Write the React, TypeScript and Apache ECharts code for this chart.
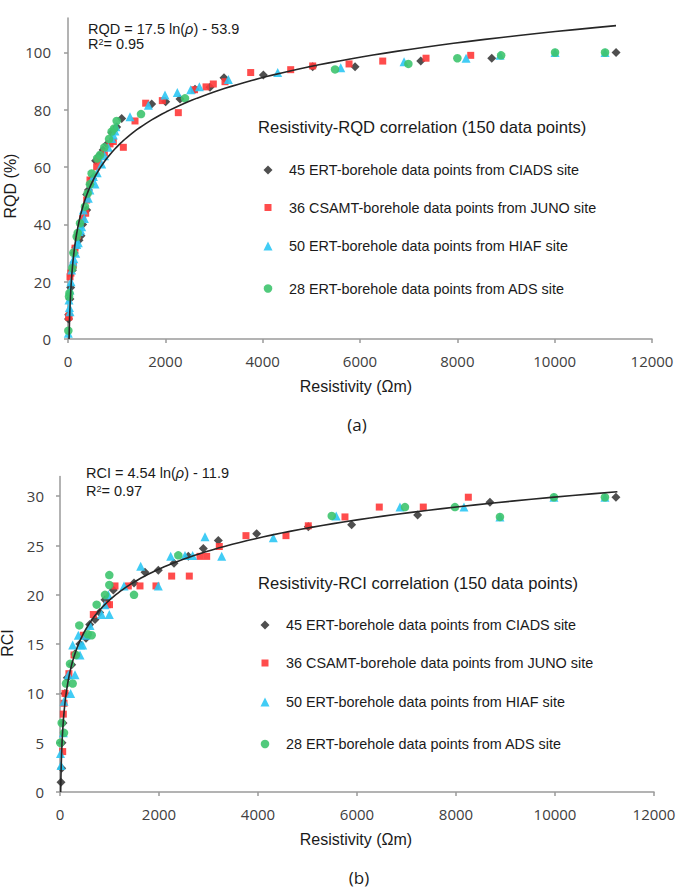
import React, { useEffect, useRef } from "react";
import * as echarts from "echarts";

// ---------- data ----------
const X_TICKS = [0, 2000, 4000, 6000, 8000, 10000, 12000];
const RQD_TICKS = [0, 20, 40, 60, 80, 100];
const RCI_TICKS = [0, 5, 10, 15, 20, 25, 30];

const NAME_CIADS = "45 ERT-borehole data points from CIADS site";
const NAME_JUNO = "36 CSAMT-borehole data points from JUNO site";
const NAME_HIAF = "50 ERT-borehole data points from HIAF site";
const NAME_ADS = "28 ERT-borehole data points from ADS site";

const RQD_CIADS = [[10,7],[14,8.5],[40,14],[55,18],[90,24],[130,30],[160,32],[226,34.5],[267,36],[300,40],[384,45],[384,50.4],[420,52],[460,54],[500,56],[568,62.2],[640,64],[720,66],[800,68],[900,72],[1000,74],[1103,77],[1720,82],[2007,82.8],[2301,83.8],[2610,87.2],[2918,87.9],[3206,91.2],[4014,92.1],[5028,95],[5898,95],[7248,97],[8707,98],[11261,100]];
const RQD_JUNO = [[14,7.6],[21,8],[41,21.7],[60,23],[110,25.8],[144,31.7],[200,36],[300,42],[363,43.9],[384,48.5],[452,55.5],[589,60.1],[623,62.4],[747,65],[863,68.1],[931,68.9],[1137,66.9],[1377,76.1],[1596,82.3],[1938,83.2],[2267,79],[2600,87],[2836,88],[2986,89],[3226,89.8],[3754,93],[4576,94],[5028,95.3],[5775,96],[6467,97],[7357,98],[8275,99]];
const RQD_HIAF = [[7,2],[21,13.6],[30,11],[41,9.5],[41,17.1],[62,20],[75,24.1],[100,27],[120,28],[158,29.9],[180,33],[212,33.6],[226,37.5],[260,38],[281,39.2],[315,45],[336,42.1],[418,49.1],[450,52],[521,56.7],[555,54.1],[600,58],[692,61.1],[750,64],[829,66.9],[900,70],[931,71.2],[966,72.6],[986,74.1],[1274,77.6],[1651,81.6],[1993,85.2],[2246,86],[2521,87],[2699,88],[3295,90.6],[4309,93],[5604,94.7],[6905,96.8],[8179,98],[8878,99],[10008,100],[11035,100]];
const RQD_ADS = [[7,2.9],[21,14.8],[30,16],[89,24.7],[110,30.1],[178,35.7],[200,37],[247,40.4],[349,46.2],[404,50.8],[450,54],[486,57.8],[600,63],[658,64.2],[747,66.9],[843,69.8],[897,72.4],[950,73.5],[1000,76.1],[1500,78.5],[2404,84],[5487,94.1],[6994,96],[8001,98],[8900,99],[10008,100],[11035,100]];

const RCI_CIADS = [[20,1],[34,2.4],[40,5],[60,7],[100,10],[148,11.6],[236,12.9],[300,14],[400,15],[525,15.6],[600,17],[707,17.5],[800,18.2],[909,19.5],[1077,20.5],[1495,21.2],[1717,22.3],[1986,22.5],[2303,23.2],[2592,23.9],[2895,24.7],[3198,25.5],[3973,26.2],[5016,26.9],[5892,27.1],[7225,28.1],[8686,29.4],[11231,29.9]];
const RCI_JUNO = [[54,4.1],[67,7.9],[81,9],[101,10],[180,12],[283,13.9],[471,15.9],[673,18],[956,19],[1000,19],[1111,20.9],[1380,20.9],[1616,20.9],[1939,20.9],[2256,21.9],[2612,21.9],[2828,23.9],[2963,23.9],[3218,24.9],[3757,26],[4565,26],[5016,27],[5757,27.9],[6450,28.9],[7339,28.9],[8249,29.9]];
const RCI_HIAF = [[10,3.9],[20,2.7],[67,6],[81,9.2],[168,11.9],[215,10],[303,11.9],[256,14.9],[370,15.9],[404,13.9],[417,14.9],[458,14.9],[525,15.9],[606,16.9],[842,18],[909,19],[976,20],[996,18],[1293,20.9],[1630,22.9],[1986,20.9],[2236,23.9],[2525,24],[2680,24],[2929,25.9],[3266,23.9],[4309,25.8],[5580,28],[6868,28.9],[8161,28.9],[8888,27.9],[9979,29.9],[11009,29.9]];
const RCI_ADS = [[5,5],[34,7],[81,6],[121,11],[202,13],[256,11],[323,13.9],[390,16.9],[560,16],[640,15.9],[741,19],[909,20],[996,21],[996,22],[1495,20],[2390,24],[5490,28],[6969,28.9],[7979,28.9],[8888,27.9],[9979,29.9],[11009,29.9]];

// fitted logarithmic trendlines as printed on the chart: y = a ln(x) + b
const RQD_FIT_A = 17.5;
const RQD_FIT_B = -53.9;
const RCI_FIT_A = 4.54;
const RCI_FIT_B = -11.9;
const FIT_X_END = 11260;

function fitCurve(a: number, b: number) {
  const x0 = Math.exp(-b / a);
  const pts: number[][] = [];
  const n = 160;
  for (let i = 0; i <= n; i++) {
    const x = x0 * Math.pow(FIT_X_END / x0, i / n);
    pts.push([x, a * Math.log(x) + b]);
  }
  return pts;
}

const COLORS = {
  ciads: "#3c3c3c",
  juno: "#ff3838",
  hiaf: "#2cc6f4",
  ads: "#3ec46e",
};

export default function App() {
  const ref = useRef<HTMLDivElement>(null);
  useEffect(() => {
    if (!ref.current) return;
    const chart = echarts.init(ref.current, null, { renderer: "svg" });

    const axisLine = { lineStyle: { color: "#9a9a9a", width: 1.5 } };
    const axisTick = { show: true, length: 4, lineStyle: { color: "#9a9a9a", width: 1.5 } };
    const tickFont = { fontFamily: "Open Sans", fontSize: 15, color: "#404040" };

    const scatterDefs = (gi: number, sets: number[][][]) => [
      { name: NAME_CIADS, symbol: "diamond", symbolSize: 9, color: COLORS.ciads, data: sets[0] },
      { name: NAME_JUNO, symbol: "rect", symbolSize: 7, color: COLORS.juno, data: sets[1] },
      { name: NAME_HIAF, symbol: "triangle", symbolSize: 9, color: COLORS.hiaf, data: sets[2] },
      { name: NAME_ADS, symbol: "circle", symbolSize: 8.5, color: COLORS.ads, data: sets[3] },
    ].map((s) => ({
      type: "scatter",
      name: s.name,
      xAxisIndex: gi,
      yAxisIndex: gi,
      symbol: s.symbol,
      symbolSize: s.symbolSize,
      itemStyle: { color: s.color, opacity: 0.9 },
      data: s.data,
      z: 2,
    }));

    const names = [NAME_CIADS, NAME_JUNO, NAME_HIAF, NAME_ADS];
    const icons = ["diamond", "rect", "triangle", "circle"];
    const iconSizes = [9, 7, 9, 8.5];
    const makeLegends = (left: number, ys: number[]) =>
      names.map((n, i) => ({
        left: left - iconSizes[i] / 2,
        top: ys[i] - 8,
        padding: 0,
        selectedMode: false,
        itemWidth: iconSizes[i],
        itemHeight: iconSizes[i],
        data: [{ name: n, icon: icons[i] }],
        textStyle: {
          fontFamily: "Liberation Sans",
          fontSize: 14.4,
          lineHeight: 16,
          color: "#1a1a1a",
          padding: [0, 0, 0, 21 - 5 - iconSizes[i] / 2],
        },
      }));

    const eqRich = {
      i: { fontFamily: "Liberation Sans", fontSize: 14.5, lineHeight: 14, fontStyle: "italic", fill: "#1a1a1a" },
    };
    const supRich = {
      s: { fontFamily: "Liberation Sans", fontSize: 9, fill: "#1a1a1a", verticalAlign: "top", lineHeight: 13 },
    };
    const txt = (x: number, y: number, text: string, extra: any = {}) => ({
      type: "text",
      x,
      y,
      style: {
        text,
        fontFamily: "Liberation Sans",
        fontSize: 15,
        fill: "#1a1a1a",
        align: "left",
        verticalAlign: "middle",
        ...extra,
      },
    });

    chart.setOption({
      animation: false,
      backgroundColor: "#ffffff",
      grid: [
        { left: 68, top: 18.1, width: 584, height: 320.9 },
        { left: 60, top: 476.5, width: 594, height: 315.5 },
      ],
      xAxis: [0, 1].map((gi) => ({
        type: "value",
        gridIndex: gi,
        min: X_TICKS[0],
        max: X_TICKS[X_TICKS.length - 1],
        interval: X_TICKS[1] - X_TICKS[0],
        splitLine: { show: false },
        axisLine,
        axisTick,
        axisLabel: { ...tickFont, margin: 14, formatter: (v: number) => String(v) },
      })),
      yAxis: [
        {
          type: "value",
          gridIndex: 0,
          min: 0,
          max: 112,
          splitLine: { show: false },
          axisLine: { show: true, ...axisLine },
          axisTick: { ...axisTick, customValues: RQD_TICKS },
          axisLabel: { ...tickFont, margin: 17, customValues: RQD_TICKS, formatter: (v: number) => String(v) },
        },
        {
          type: "value",
          gridIndex: 1,
          min: 0,
          max: 32,
          splitLine: { show: false },
          axisLine: { show: true, ...axisLine },
          axisTick: { ...axisTick, customValues: RCI_TICKS },
          axisLabel: { ...tickFont, margin: 16, customValues: RCI_TICKS, formatter: (v: number) => String(v) },
        },
      ],
      legend: [
        ...makeLegends(268, [170, 207.5, 246, 288.5]),
        ...makeLegends(265, [625, 663, 702, 744]),
      ],
      series: [
        ...scatterDefs(0, [RQD_CIADS, RQD_JUNO, RQD_HIAF, RQD_ADS]),
        ...scatterDefs(1, [RCI_CIADS, RCI_JUNO, RCI_HIAF, RCI_ADS]),
        {
          type: "line",
          name: "RQD trend",
          xAxisIndex: 0,
          yAxisIndex: 0,
          data: fitCurve(RQD_FIT_A, RQD_FIT_B),
          showSymbol: false,
          symbol: "none",
          lineStyle: { color: "#262626", width: 1.6 },
          z: 3,
        },
        {
          type: "line",
          name: "RCI trend",
          xAxisIndex: 1,
          yAxisIndex: 1,
          data: fitCurve(RCI_FIT_A, RCI_FIT_B),
          showSymbol: false,
          symbol: "none",
          lineStyle: { color: "#262626", width: 1.6 },
          z: 3,
        },
      ],
      graphic: [
        txt(88, 28.5, "RQD = 17.5 ln({i|ρ}) - 53.9", { rich: eqRich, fontSize: 14.5, lineHeight: 14 }),
        txt(88, 44, "R{s|2}= 0.95", { rich: supRich, fontSize: 14.5, lineHeight: 13 }),
        txt(86, 472.5, "RCI = 4.54 ln({i|ρ}) - 11.9", { rich: eqRich, fontSize: 14.5, lineHeight: 14 }),
        txt(86, 491, "R{s|2}= 0.97", { rich: supRich, fontSize: 14.5, lineHeight: 13 }),
        txt(258, 127, "Resistivity-RQD correlation (150 data points)", { fontSize: 16.6 }),
        txt(258, 583, "Resistivity-RCI correlation (150 data points)", { fontSize: 16.6 }),
        txt(356, 386, "Resistivity (Ωm)", { fontSize: 16, align: "center" }),
        txt(356, 839, "Resistivity (Ωm)", { fontSize: 16, align: "center" }),
        {
          type: "text",
          x: 10,
          y: 186,
          rotation: Math.PI / 2,
          style: { text: "RQD (%)", fontFamily: "Liberation Sans", fontSize: 16, fill: "#1a1a1a", align: "center", verticalAlign: "middle" },
        },
        {
          type: "text",
          x: 7,
          y: 643,
          rotation: Math.PI / 2,
          style: { text: "RCI", fontFamily: "Liberation Sans", fontSize: 16, fill: "#1a1a1a", align: "center", verticalAlign: "middle" },
        },
        txt(357, 424, "(a)", { fontFamily: "Open Sans", fontSize: 17, align: "center" }),
        txt(359, 877, "(b)", { fontFamily: "Open Sans", fontSize: 17, align: "center" }),
      ],
    });
    return () => chart.dispose();
  }, []);

  return (
    <div
      ref={ref}
      style={{ position: "fixed", left: 0, top: 0, width: 685, height: 887, background: "#fff" }}
    />
  );
}
